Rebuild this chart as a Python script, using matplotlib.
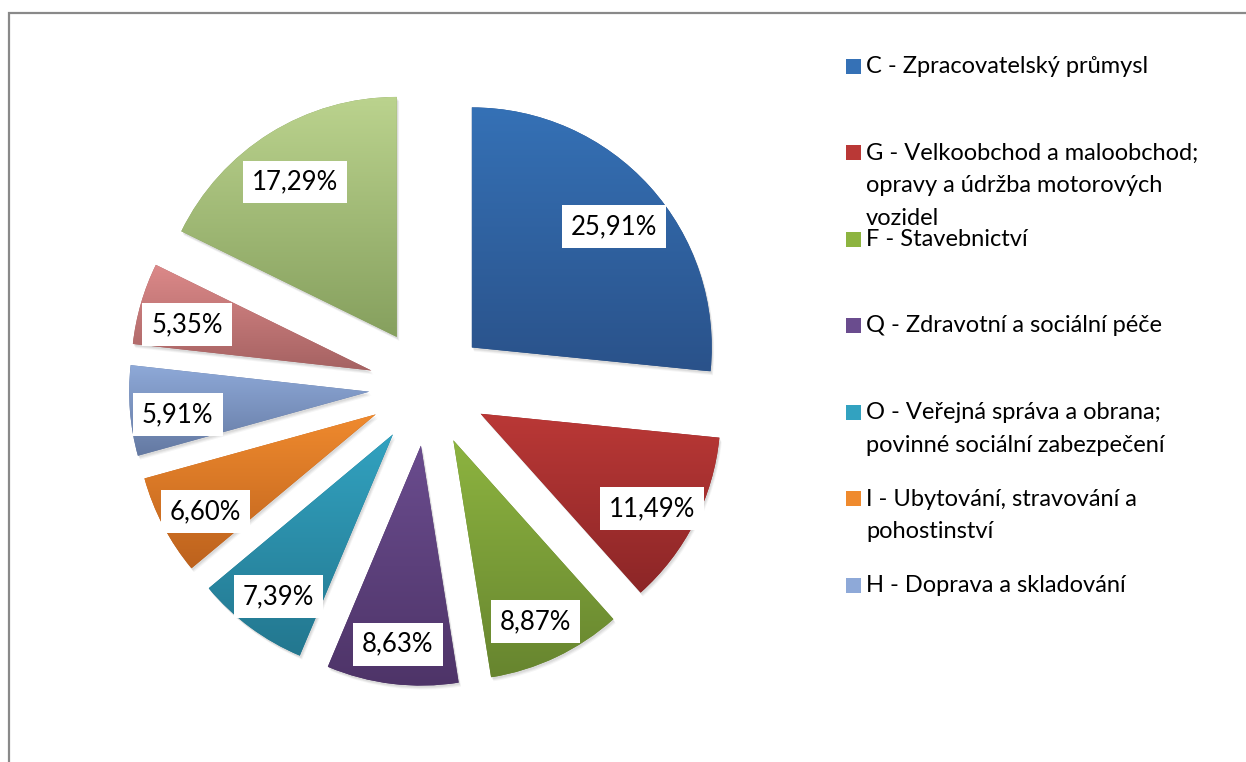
import numpy as np
import matplotlib
matplotlib.use('Agg')
import matplotlib.pyplot as plt
from matplotlib.patches import Wedge, Rectangle

plt.rcParams['font.family'] = ['Lato', 'DejaVu Sans']

# slice values (%), clockwise from 12 o'clock
values = [25.91, 11.49, 8.87, 8.63, 7.39, 6.60, 5.91, 5.35, 17.29]

# legend entries shown in the chart (the last two slices are cut off)
legend_labels = [
    'C - Zpracovatelský průmysl',
    'G - Velkoobchod a maloobchod;\nopravy a údržba motorových\nvozidel',
    'F - Stavebnictví',
    'Q - Zdravotní a sociální péče',
    'O - Veřejná správa a obrana;\npovinné sociální zabezpečení',
    'I - Ubytování, stravování a\npohostinství',
    'H - Doprava a skladování',
]

# gradient colours (top, bottom) for each slice
top_colors = ['#3571B6', '#BA3836', '#8DB440', '#6A4C8E', '#32A2C0',
              '#EF8A2E', '#8EA9D8', '#DC8989', '#BBD38E']
bottom_colors = ['#2A528A', '#8C2627', '#67852F', '#4E3468', '#23778F',
                 '#BD621D', '#6479A2', '#A56262', '#86A05E']

W, H = 1246, 762


def label_text(v):
    return f'{v:.2f}'.replace('.', ',') + '%'


def main():
    fig = plt.figure(figsize=(W / 100, H / 100), dpi=100)
    ax = fig.add_axes([0, 0, 1, 1])

    # explode is in data units (pixels here)
    wedges, _, autotexts = ax.pie(
        values, explode=[59] * len(values), center=(428, H - 387),
        radius=240, startangle=90, counterclock=False,
        autopct='%1.1f', pctdistance=0.8,
        wedgeprops=dict(linewidth=0))

    for w, c0, c1 in zip(wedges, top_colors, bottom_colors):
        w.set_facecolor(c1)
        w.set_zorder(2)
        # soft shadow
        for k, a in [(4, 0.04), (3, 0.05), (2, 0.06)]:
            s = Wedge((w.center[0] + k * 0.6, w.center[1] - k), w.r,
                      w.theta1, w.theta2, facecolor='black', alpha=a,
                      linewidth=0, zorder=1)
            ax.add_patch(s)
        # vertical gradient clipped to the slice
        ext = w.get_path().get_extents()
        ca = np.array(matplotlib.colors.to_rgb(c0))
        cb = np.array(matplotlib.colors.to_rgb(c1))
        t = np.linspace(0, 1, 256)[:, None]
        grad = (cb * (1 - t) + ca * t)[:, None, :]
        im = ax.imshow(grad, extent=[ext.x0, ext.x1, ext.y0, ext.y1],
                       origin='lower', aspect='auto', zorder=3,
                       interpolation='bilinear')
        im.set_clip_path(w)

    for t, v in zip(autotexts, values):
        t.set_text(label_text(v))
        t.set_fontsize(18.5)
        t.set_color('black')
        t.set_zorder(5)
        t.set_y(t.get_position()[1] - 8)
        t.set_bbox(dict(boxstyle='square,pad=0.35', fc='white', ec='none'))

    # legend
    for i, (lab, col) in enumerate(zip(legend_labels, top_colors)):
        yc = H - (66 + i * 86.5)
        sq = Rectangle((846, yc - 7.5), 15, 15, facecolor=col,
                       edgecolor='none', zorder=4)
        ax.add_patch(sq)
        ax.text(866, yc + 10, lab, fontsize=17, va='top', ha='left',
                linespacing=1.68, color='black', zorder=4)

    # chart border (right and bottom edges fall outside the picture)
    ax.add_patch(Rectangle((8.5, -20), W + 40, H - 12.5 + 20, fill=False,
                           edgecolor='#898989', linewidth=1.6, zorder=0))

    ax.set_xlim(0, W)
    ax.set_ylim(0, H)
    ax.set_aspect('auto')
    ax.axis('off')

    fig.savefig('out.png', dpi=100)


if __name__ == '__main__':
    main()
